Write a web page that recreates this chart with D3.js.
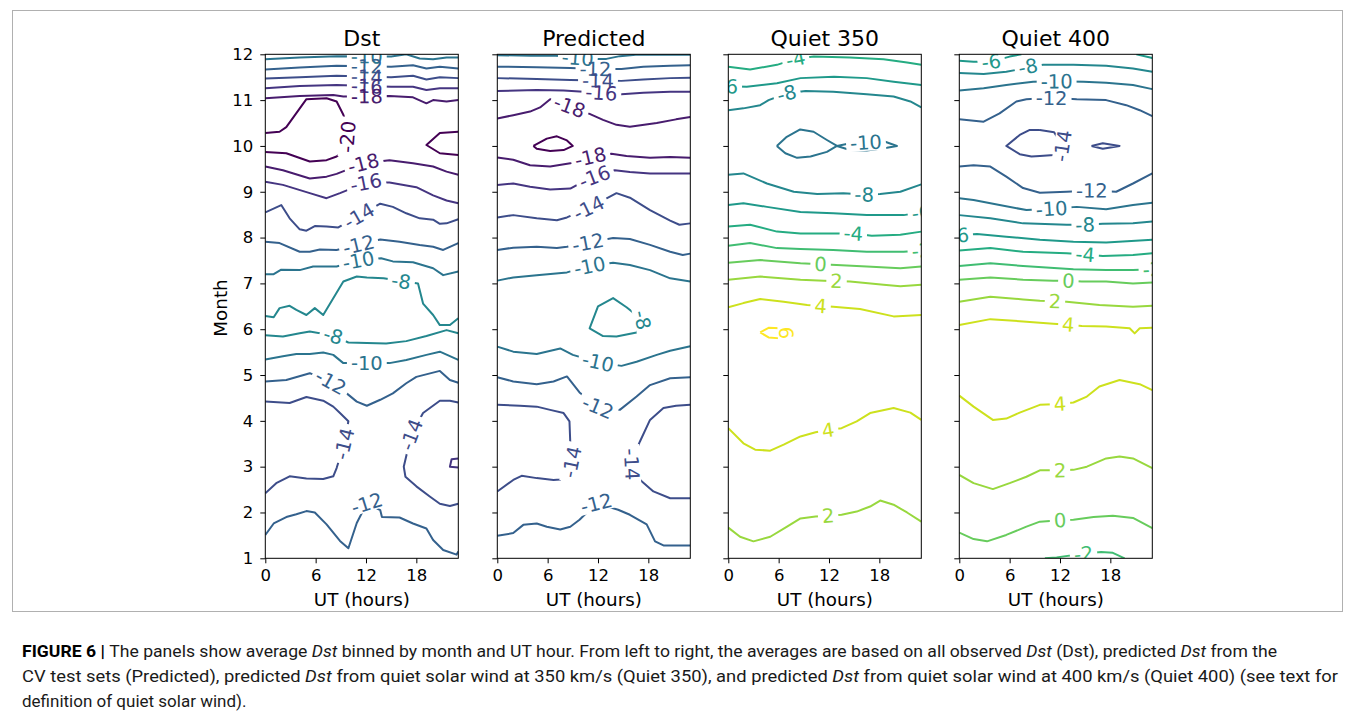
<!DOCTYPE html>
<html>
<head>
<meta charset="utf-8">
<script src="https://cdn.jsdelivr.net/npm/d3@7"></script>
<style>
  body { margin: 0; background: #fff; }
  svg text { font-family: "DejaVu Sans", sans-serif; }
</style>
</head>
<body>
<svg id="chart" width="1355" height="720"></svg>
<script>
(function (d3) {
    'use strict';

    // ---- data (contour lines in [UT hour, month]) ----
    var titles = ["Dst", "Predicted", "Quiet 350", "Quiet 400"];
    var utTicks = [0, 6, 12, 18];
    var monthTicks = [1, 2, 3, 4, 5, 6, 7, 8, 9, 10, 11, 12];
    var levelRange = [-20, 6];

    var dstLines = [
        [-10, [[0, 11.89], [4.1, 11.93], [8.5, 11.96], [15, 11.95], [16.8, 12.0], [18.4, 11.91], [20, 11.89], [21.6, 11.93], [23, 11.93]]],
        [-12, [[0, 11.67], [4.1, 11.71], [8.5, 11.75], [15, 11.73], [17.6, 11.76], [19.2, 11.69], [20.8, 11.73], [23, 11.69]]],
        [-14, [[0, 11.47], [4.1, 11.5], [8.5, 11.53], [15, 11.5], [17.6, 11.53], [19.2, 11.45], [20.8, 11.5], [23, 11.48]]],
        [-16, [[0, 11.26], [4.1, 11.31], [8.5, 11.33], [15, 11.29], [17.6, 11.29], [19.2, 11.22], [20.8, 11.26], [23, 11.26]]],
        [-18, [[0, 11.04], [4.1, 11.09], [8.1, 11.11], [9.3, 11.08], [14.8, 11.09], [17.6, 11.06], [19.2, 10.93], [20, 11.0], [21.6, 10.97], [23, 11.0]]],
        [-20, [[0, 10.28], [1.7, 10.31], [2.5, 10.41], [4.9, 11.02], [7.3, 11.04], [8.5, 10.97], [9.3, 10.68], [9.7, 10.46], [9.8, 10.2], [9.5, 9.91], [8.5, 9.77], [7.3, 9.69], [5.3, 9.66], [2.5, 9.84], [0, 9.87]]],
        [-20, [[23, 10.31], [20.8, 10.28], [19.2, 10.02], [20.8, 9.84], [23, 9.8]]],
        [-18, [[0, 9.55], [2.1, 9.47], [5.3, 9.29], [7.3, 9.33], [8.5, 9.39], [11.7, 9.62], [14.8, 9.69], [17.6, 9.62], [20, 9.55], [21.6, 9.44], [23, 9.37]]],
        [-16, [[0, 9.22], [2.1, 9.15], [5.3, 8.97], [7.3, 8.86], [8.9, 8.97], [12, 9.2], [14.8, 9.2], [18, 9.1], [20, 8.92], [21.6, 8.81], [23, 8.75]]],
        [-14, [[0, 8.55], [1.9, 8.71], [2.9, 8.42], [4.1, 8.18], [4.9, 8.15], [5.9, 8.25], [7.3, 8.24], [8.7, 8.22], [13.7, 8.74], [15.2, 8.67], [16.8, 8.53], [18.4, 8.42], [20, 8.39], [20.8, 8.3], [21.6, 8.31], [23, 8.4]]],
        [-12, [[0, 7.91], [1.7, 7.88], [4.1, 7.69], [5.3, 7.69], [6.5, 7.74], [8.5, 7.73], [13.7, 7.96], [16, 7.91], [18.4, 7.84], [20, 7.8], [21.2, 7.73], [23, 7.88]]],
        [-10, [[0, 7.2], [1, 7.2], [1.9, 7.3], [4.1, 7.29], [5.7, 7.37], [8.5, 7.37], [11.1, 7.5], [13.8, 7.55], [15.2, 7.48], [17.6, 7.46], [20, 7.33], [21.2, 7.18], [23, 7.26]]],
        [-8, [[0, 6.29], [1, 6.26], [1.7, 6.46], [2.9, 6.51], [3.7, 6.42], [4.9, 6.31], [5.9, 6.46], [6.9, 6.31], [9.3, 7.04], [10.9, 7.15], [12.1, 7.13], [14.1, 7.11], [16.2, 7.05], [18.2, 7.0], [18.8, 6.56], [20, 6.31], [20.8, 6.09], [22, 6.09], [23, 6.24]]],
        [-8, [[0, 5.87], [2.1, 5.84], [4.1, 5.91], [5.3, 5.95], [8.1, 5.86], [9.9, 5.71], [12.1, 5.7], [14.4, 5.69], [16.8, 5.74], [19.2, 5.85], [21.6, 5.98], [23, 5.91]]],
        [-10, [[0, 5.34], [2.1, 5.41], [3.7, 5.46], [5.3, 5.46], [6.9, 5.49], [8.1, 5.44], [9.3, 5.26], [14.8, 5.26], [16.8, 5.33], [19.2, 5.44], [20.8, 5.51], [23, 5.33]]],
        [-12, [[0, 4.86], [2.5, 4.89], [5.3, 5.04], [7.8, 4.85], [9.7, 4.6], [10.9, 4.42], [12.1, 4.33], [13.7, 4.46], [15.2, 4.6], [16.8, 4.82], [18, 4.96], [20.8, 5.09], [22, 4.89], [23, 4.83]]],
        [-14, [[0, 4.42], [2.9, 4.39], [4.9, 4.52], [6.9, 4.44], [8.1, 4.31], [8.9, 4.17], [9.9, 3.99], [9.4, 3.5], [8.5, 2.97], [8.1, 2.79], [6.9, 2.73], [4.9, 2.74], [2.9, 2.79], [1.3, 2.64], [0, 2.42]]],
        [-14, [[23, 4.4], [22, 4.44], [20.8, 4.44], [18.8, 4.17], [17.4, 3.7], [16.5, 3.0], [16.7, 2.78], [18, 2.57], [19.6, 2.35], [20.8, 2.19], [22, 2.14], [23, 2.19]]],
        [-16, [[23, 3.18], [22.2, 3.16], [22, 3.0], [23, 2.98]]],
        [-12, [[0, 1.51], [1, 1.76], [2.5, 1.9], [3.7, 1.96], [4.9, 2.03], [5.9, 2.0], [7.3, 1.74], [8.9, 1.38], [9.9, 1.22], [10.9, 1.77], [12.1, 2.2], [13.7, 2.05], [13.9, 1.9], [16, 1.89], [17.6, 1.76], [19.2, 1.65], [20, 1.4], [21.2, 1.18], [22.8, 1.08], [23, 1.15]]]
    ];
    var dstLabels = [
        [-10, 12.1, 11.93], [-12, 12.1, 11.74], [-14, 12.1, 11.52], [-16, 12.1, 11.31], [-18, 12.1, 11.09],
        [-20, 9.8, 10.2], [-18, 11.7, 9.62], [-16, 12, 9.2], [-14, 11.1, 8.5], [-12, 11.1, 7.86],
        [-10, 11.1, 7.5], [-8, 16.2, 7.05], [-8, 8.1, 5.86], [-10, 12.1, 5.26], [-12, 7.8, 4.85],
        [-14, 9.4, 3.5], [-14, 17.4, 3.7], [-12, 12.1, 2.2]
    ];

    var predLines = [
        [-10, [[0, 11.98], [4, 11.97], [7, 11.97], [9, 11.93], [10.5, 11.9], [13, 11.9], [14.6, 11.96], [16.5, 11.99], [20, 11.99], [23, 11.99]]],
        [-12, [[0, 11.73], [4.7, 11.72], [8.7, 11.7], [11.7, 11.68], [14.8, 11.68], [17.4, 11.73], [20.6, 11.75], [23, 11.76]]],
        [-14, [[0, 11.48], [4.7, 11.46], [8.7, 11.44], [12, 11.43], [14.8, 11.42], [17.4, 11.45], [20.6, 11.48], [23, 11.49]]],
        [-16, [[0, 11.2], [4.7, 11.22], [7.9, 11.21], [9.8, 11.19], [12.4, 11.16], [14.8, 11.13], [17.4, 11.16], [20.6, 11.18], [23, 11.18]]],
        [-18, [[0, 10.6], [1.9, 10.67], [3.9, 10.75], [5.1, 10.84], [6.3, 11.02], [11, 10.7], [12.6, 10.57], [14.2, 10.46], [15.8, 10.42], [19, 10.5], [21.3, 10.58], [23, 10.63]]],
        [-20, [[4.3, 10.0], [5.9, 10.16], [7.1, 10.21], [8.3, 10.12], [9.0, 10.0], [7.9, 9.91], [6.3, 9.89], [4.7, 9.94], [4.3, 10.0]]],
        [-18, [[0, 9.75], [1.9, 9.7], [3.9, 9.58], [6.3, 9.55], [8.7, 9.62], [11.1, 9.76], [13.6, 9.83], [15.4, 9.78], [18.2, 9.74], [20.6, 9.76], [23, 9.74]]],
        [-16, [[0, 9.15], [1.9, 9.18], [3.9, 9.11], [6.3, 9.05], [8.7, 9.07], [9.8, 9.18], [11.6, 9.33], [14, 9.47], [15.8, 9.43], [18.2, 9.4], [20.6, 9.4], [23, 9.4]]],
        [-14, [[0, 8.44], [1.9, 8.49], [4.7, 8.42], [7.1, 8.38], [8.3, 8.44], [10.9, 8.65], [14.2, 8.97], [15.8, 8.87], [18.2, 8.6], [20.6, 8.37], [21.7, 8.28], [23, 8.31]]],
        [-12, [[0, 7.73], [1.9, 7.78], [4.7, 7.8], [7.1, 7.77], [8.3, 7.8], [10.8, 7.89], [13.8, 7.99], [15.8, 7.97], [18.2, 7.84], [20.6, 7.69], [22.1, 7.62], [23, 7.65]]],
        [-10, [[0, 7.06], [1.9, 7.13], [4.7, 7.18], [8.3, 7.24], [11, 7.38], [13.8, 7.45], [15.8, 7.4], [18.2, 7.29], [20.6, 7.11], [23, 7.04]]],
        [-8, [[15.4, 6.48], [13.8, 6.68], [12.0, 6.5], [11.0, 6.02], [12.6, 5.85], [14.2, 5.84], [16.6, 5.93], [17.3, 6.2], [15.4, 6.48]]],
        [-10, [[0, 5.62], [1.9, 5.51], [4.7, 5.46], [7.5, 5.58], [9.0, 5.44], [12, 5.28], [14.8, 5.2], [16.6, 5.29], [19, 5.44], [20.6, 5.53], [23, 5.63]]],
        [-12, [[0, 4.95], [1.9, 4.86], [4.7, 4.8], [6.7, 4.86], [8.3, 4.97], [9.8, 4.62], [12, 4.3], [14.6, 4.24], [16.6, 4.53], [18.2, 4.78], [20.6, 4.93], [23, 4.95]]],
        [-14, [[0, 4.35], [2.7, 4.33], [4.7, 4.31], [6.3, 4.24], [7.9, 4.17], [8.6, 3.99], [8.7, 3.51], [8.9, 3.0], [7.5, 2.72], [6.7, 2.71], [4.7, 2.75], [2.9, 2.8], [1.9, 2.71], [0, 2.46]]],
        [-14, [[23, 4.35], [21.3, 4.33], [19.8, 4.28], [18.2, 4.02], [17, 3.55], [16.2, 3.2], [15.9, 2.95], [17.2, 2.68], [18.6, 2.46], [20.6, 2.31], [23, 2.31]]],
        [-12, [[0, 1.49], [1.9, 1.55], [3.1, 1.73], [4.7, 1.76], [5.9, 1.69], [7.5, 1.63], [8.7, 1.69], [9.8, 1.84], [11.8, 2.2], [14.4, 2.06], [15.8, 1.95], [17.8, 1.74], [18.8, 1.37], [19.8, 1.28], [23, 1.28]]]
    ];
    var predLabels = [
        [-10, 9.6, 11.93], [-12, 11.7, 11.68], [-14, 12, 11.43], [-16, 12.4, 11.16], [-18, 8.7, 10.9],
        [-18, 11.1, 9.76], [-16, 11.6, 9.33], [-14, 10.9, 8.65], [-12, 10.8, 7.89], [-10, 11, 7.38],
        [-8, 17.3, 6.2], [-10, 12, 5.28], [-12, 12, 4.3], [-14, 8.8, 3.1], [-14, 16.0, 3.05], [-12, 11.8, 2.2]
    ];

    var quiet350Lines = [
        [-4, [[0, 11.73], [2.6, 11.67], [5.8, 11.77], [8, 11.9], [10.2, 11.95], [14.5, 11.93], [18.5, 11.89], [21.3, 11.82], [23, 11.77]]],
        [-6, [[0, 11.3], [2.2, 11.29], [5.8, 11.37], [8.6, 11.48], [12.6, 11.51], [16.5, 11.48], [19.7, 11.4], [23, 11.33]]],
        [-8, [[0, 10.78], [1.8, 10.82], [3.8, 10.89], [4.8, 11.0], [7, 11.15], [9.2, 11.2], [12.5, 11.18], [16.5, 11.13], [19.7, 11.08], [21.7, 10.97], [23, 10.84]]],
        [-10, [[5.78, 10.0], [6.97, 10.2], [8.57, 10.36], [10.16, 10.31], [11.75, 10.13], [12.95, 10.0], [14.1, 10.04], [16.5, 10.08], [18.7, 10.09], [20.1, 10.0], [18.9, 9.96], [16.5, 9.9], [14.5, 9.91], [12.95, 10.0], [11.75, 9.87], [9.8, 9.77], [8.2, 9.74], [6.8, 9.84], [5.78, 10.0]]],
        [-8, [[0, 9.37], [1.8, 9.4], [4.6, 9.18], [7.8, 9.0], [10.6, 8.95], [13.7, 8.97], [16.2, 8.94], [18.1, 8.95], [20.5, 9.0], [23, 9.16]]],
        [-6, [[0, 8.71], [1.8, 8.75], [4.6, 8.67], [8.6, 8.56], [12.5, 8.53], [16.5, 8.49], [20.9, 8.49], [23, 8.55]]],
        [-4, [[0, 8.24], [2.6, 8.28], [5.8, 8.13], [8.6, 8.09], [12.7, 8.09], [14.9, 8.09], [17.1, 8.04], [20.5, 8.06], [23, 8.13]]],
        [-2, [[0, 7.82], [2.6, 7.88], [5.8, 7.77], [8.6, 7.75], [12.5, 7.73], [16.5, 7.69], [20.9, 7.69], [23, 7.72]]],
        [0, [[0, 7.45], [3.8, 7.51], [8.6, 7.44], [11, 7.42], [12.9, 7.4], [16.5, 7.37], [20.5, 7.33], [23, 7.37]]],
        [2, [[0, 7.08], [3.8, 7.15], [8.6, 7.08], [11.4, 7.06], [14.5, 7.04], [18.5, 6.97], [20.5, 6.94], [23, 6.97]]],
        [4, [[0, 6.48], [1.8, 6.57], [3.8, 6.66], [6.6, 6.6], [9.4, 6.53], [12.5, 6.49], [15.7, 6.44], [19.7, 6.28], [23, 6.31]]],
        [6, [[3.8, 5.93], [4.8, 6.03], [6.2, 6.02], [6.9, 5.92], [6.2, 5.8], [4.8, 5.82], [3.8, 5.93]]],
        [4, [[0, 3.84], [1.8, 3.51], [3.2, 3.37], [5, 3.35], [6.6, 3.48], [8.6, 3.66], [10.4, 3.75], [11.9, 3.8], [13.5, 3.84], [15.3, 3.99], [16.9, 4.17], [19.7, 4.28], [21.7, 4.18], [23, 4.02]]],
        [2, [[0, 1.67], [1.4, 1.47], [3, 1.37], [5, 1.47], [7, 1.69], [8.6, 1.87], [10.4, 1.91], [11.9, 1.93], [13.5, 1.95], [15.3, 2.02], [16.9, 2.13], [18.1, 2.26], [19.7, 2.17], [21.3, 2.0], [23, 1.8]]]
    ];
    var quiet350Labels = [
        [-4, 8, 11.92], [-6, 0, 11.3], [-8, 7, 11.13], [-10, 16.4, 10.08], [-8, 16.2, 8.94], [-6, 23, 8.55],
        [-4, 14.9, 8.09], [-2, 23, 7.72], [0, 11, 7.42], [2, 12.9, 7.05], [4, 11, 6.51], [6, 6.9, 5.92],
        [4, 11.9, 3.8], [2, 11.9, 1.93]
    ];

    var quiet400Lines = [
        [-6, [[0, 11.86], [1.7, 11.84], [3.8, 11.84], [6, 11.95], [7.4, 12.0]]],
        [-6, [[21.1, 12.0], [23, 11.92]]],
        [-8, [[0, 11.59], [2.9, 11.57], [5.6, 11.62], [6.8, 11.66], [8.1, 11.73], [10, 11.77], [13.6, 11.77], [17.5, 11.75], [20.7, 11.69], [23, 11.62]]],
        [-10, [[0, 11.21], [2.9, 11.26], [5.6, 11.33], [8.8, 11.4], [11.4, 11.41], [14.8, 11.4], [17.5, 11.38], [20.7, 11.33], [23, 11.24]]],
        [-12, [[0, 10.58], [2.9, 10.53], [4.8, 10.71], [6.8, 10.97], [8, 11.02], [11, 11.05], [14, 11.02], [17.5, 11.0], [19.9, 10.89], [21.5, 10.78], [23, 10.65]]],
        [-14, [[9.6, 10.35], [8.4, 10.35], [7.2, 10.24], [5.6, 10.0], [7.2, 9.82], [8.6, 9.77], [9.6, 9.78], [11.3, 9.8], [12.3, 10.0], [11.3, 10.3], [9.6, 10.35]]],
        [-14, [[15.75, 10.0], [17.1, 10.06], [19.1, 10.0], [17.1, 9.94], [15.75, 10.0]]],
        [-12, [[0, 9.55], [1.7, 9.58], [3.7, 9.55], [5.6, 9.33], [7.6, 9.08], [9.6, 8.98], [12.8, 9.0], [15.8, 9.03], [18.7, 9.0], [20.7, 9.18], [23, 9.4]]],
        [-10, [[0, 8.86], [1.7, 8.82], [4.8, 8.71], [8, 8.6], [11, 8.63], [14, 8.67], [17.5, 8.62], [20.7, 8.71], [23, 8.76]]],
        [-8, [[0, 8.49], [3.7, 8.42], [7.6, 8.31], [12.8, 8.28], [15, 8.28], [17.1, 8.3], [20.7, 8.31], [23, 8.35]]],
        [-6, [[0, 8.05], [2.1, 8.08], [5.6, 8.02], [9.6, 7.95], [13.6, 7.91], [17.5, 7.89], [23, 7.95]]],
        [-4, [[0, 7.72], [3.7, 7.77], [7.6, 7.69], [12.8, 7.66], [15, 7.63], [17.1, 7.6], [20.7, 7.62], [23, 7.66]]],
        [-2, [[0, 7.38], [3.7, 7.44], [7.6, 7.38], [13.6, 7.31], [17.5, 7.29], [20.7, 7.29], [23, 7.31]]],
        [0, [[0, 7.08], [3.7, 7.13], [7.6, 7.08], [11.2, 7.06], [13, 7.06], [14.6, 7.04], [17.5, 7.04], [20.7, 7.0], [23, 7.02]]],
        [2, [[0, 6.6], [3.7, 6.71], [7.6, 6.65], [9.6, 6.62], [11.4, 6.61], [12.8, 6.6], [16.7, 6.53], [20.7, 6.49], [23, 6.51]]],
        [4, [[0, 6.09], [3.7, 6.22], [7.6, 6.17], [11.2, 6.12], [13, 6.1], [14.6, 6.07], [17.5, 6.06], [20.3, 6.02], [20.9, 5.91], [21.5, 6.02], [23, 6.03]]],
        [4, [[0, 4.55], [1.7, 4.31], [4, 4.02], [5.6, 4.05], [7.2, 4.18], [9.6, 4.35], [12, 4.37], [13.6, 4.4], [15.2, 4.53], [16.7, 4.75], [19.1, 4.89], [21.5, 4.8], [23, 4.67]]],
        [2, [[0, 2.82], [1.7, 2.64], [4, 2.51], [6, 2.64], [8, 2.78], [9.6, 2.92], [12, 2.92], [13.6, 2.93], [15.2, 3.0], [17.5, 3.18], [19.1, 3.22], [20.7, 3.18], [23, 2.97]]],
        [0, [[0, 1.56], [1.7, 1.42], [3.3, 1.37], [5.6, 1.51], [8, 1.69], [9.6, 1.8], [12, 1.83], [13.6, 1.84], [16, 1.9], [18.3, 1.93], [20.7, 1.88], [23, 1.66]]],
        [-2, [[10.2, 1.0], [11.6, 1.02], [14.8, 1.1], [16.9, 1.14], [18.3, 1.12], [19.7, 1.0]]]
    ];
    var quiet400Labels = [
        [-6, 3.8, 11.85], [-8, 8.2, 11.72], [-10, 11.6, 11.41], [-12, 11, 11.05], [-14, 12.3, 10.0],
        [-12, 15.8, 9.03], [-10, 11, 8.64], [-8, 15, 8.28], [-6, 0, 8.05], [-4, 15, 7.63], [-2, 23, 7.31],
        [0, 13, 7.06], [2, 11.4, 6.61], [4, 13, 6.1], [4, 12, 4.37], [2, 12, 2.92], [0, 12, 1.83], [-2, 14.8, 1.1]
    ];

    var captionLines = [
        [["b", "FIGURE 6 | "], ["", "The panels show average "], ["i", "Dst"], ["", " binned by month and UT hour. From left to right, the averages are based on all observed "], ["i", "Dst"], ["", " (Dst), predicted "], ["i", "Dst"], ["", " from the"]],
        [["", "CV test sets (Predicted), predicted "], ["i", "Dst"], ["", " from quiet solar wind at 350 km/s (Quiet 350), and predicted "], ["i", "Dst"], ["", " from quiet solar wind at 400 km/s (Quiet 400) (see text for"]],
        [["", "definition of quiet solar wind)."]]
    ];

    var panels = [
        { title: titles[0], lines: dstLines, labels: dstLabels },
        { title: titles[1], lines: predLines, labels: predLabels },
        { title: titles[2], lines: quiet350Lines, labels: quiet350Labels },
        { title: titles[3], lines: quiet400Lines, labels: quiet400Labels }
    ];

    // ---- layout ----
    var svgWidth = 1355;
    var svgHeight = 720;
    var panelLeft = [265.3, 497.3, 728.3, 959.3];
    var plotW = 193;
    var plotTop = 54.3;
    var plotBottom = 558.3;
    var tickSize = 16.5;
    var labelSize = 19.5;

    var svg = d3.select("#chart");
    svg.append("rect").attr("width", svgWidth).attr("height", svgHeight).attr("fill", "#fff");
    var defs = svg.append("defs");

    // figure frame
    svg.append("rect")
        .attr("x", 12.5).attr("y", 10.5)
        .attr("width", 1330).attr("height", 601)
        .attr("fill", "none").attr("stroke", "#b0b0b0").attr("stroke-width", 1);

    var color = function (lev) {
        return d3.interpolateViridis((lev - levelRange[0]) / (levelRange[1] - levelRange[0]));
    };

    var y = d3.scaleLinear().domain([1, 12]).range([plotBottom, plotTop]);

    // point at arc length s along a pixel polyline
    function pointAt(pts, s) {
        var acc = 0;
        if (s <= 0) return pts[0];
        for (var i = 0; i < pts.length - 1; i++) {
            var len = Math.hypot(pts[i + 1][0] - pts[i][0], pts[i + 1][1] - pts[i][1]);
            if (acc + len >= s) {
                var t = len ? (s - acc) / len : 0;
                return [pts[i][0] + t * (pts[i + 1][0] - pts[i][0]), pts[i][1] + t * (pts[i + 1][1] - pts[i][1])];
            }
            acc += len;
        }
        return pts[pts.length - 1];
    }

    panels.forEach(function (p, pi) {
        var x = d3.scaleLinear().domain([0, 23]).range([panelLeft[pi], panelLeft[pi] + plotW]);
        var g = svg.append("g");

        defs.append("clipPath").attr("id", "clip" + pi)
            .append("rect")
            .attr("x", x(0)).attr("y", y(12))
            .attr("width", plotW).attr("height", plotBottom - plotTop);

        var lineG = g.append("g").attr("clip-path", "url(#clip" + pi + ")");
        var labelG = g.append("g").attr("clip-path", "url(#clip" + pi + ")");

        var pix = p.lines.map(function (l) {
            return l[1].map(function (d) { return [x(d[0]), y(d[1])]; });
        });
        var gaps = p.lines.map(function () { return []; });

        // inline contour labels, snapped to their line
        p.labels.forEach(function (lb) {
            var hx = x(lb[1]), hy = y(lb[2]);
            var best = null;
            p.lines.forEach(function (l, li) {
                if (l[0] !== lb[0]) return;
                var pts = pix[li], s = 0;
                for (var i = 0; i < pts.length - 1; i++) {
                    var ax = pts[i][0], ay = pts[i][1];
                    var dx = pts[i + 1][0] - ax, dy = pts[i + 1][1] - ay;
                    var len = Math.hypot(dx, dy);
                    var t = len ? Math.max(0, Math.min(1, ((hx - ax) * dx + (hy - ay) * dy) / (len * len))) : 0;
                    var px = ax + t * dx, py = ay + t * dy;
                    var dist = Math.hypot(hx - px, hy - py);
                    if (!best || dist < best.dist) best = { dist: dist, li: li, s: s + t * len, x: px, y: py };
                    s += len;
                }
            });
            if (!best) return;

            var txt = labelG.append("text")
                .attr("x", best.x).attr("y", best.y)
                .attr("dy", "0.36em")
                .attr("text-anchor", "middle")
                .attr("font-size", labelSize)
                .attr("fill", color(lb[0]))
                .text(String(lb[0]));
            var w = txt.node().getComputedTextLength();
            var a = pointAt(pix[best.li], best.s - w / 2);
            var b = pointAt(pix[best.li], best.s + w / 2);
            var ang = Math.atan2(b[1] - a[1], b[0] - a[0]) * 180 / Math.PI;
            if (ang > 90) ang -= 180;
            if (ang <= -90) ang += 180;
            txt.attr("transform", "rotate(" + ang + "," + best.x + "," + best.y + ")");
            gaps[best.li].push({ x: best.x, y: best.y, w: w, ang: ang });
        });

        // contour lines, with gaps under their own labels
        p.lines.forEach(function (l, li) {
            var id = "m" + pi + "_" + li;
            var mask = defs.append("mask").attr("id", id)
                .attr("maskUnits", "userSpaceOnUse")
                .attr("x", 0).attr("y", 0).attr("width", svgWidth).attr("height", svgHeight);
            mask.append("rect").attr("width", svgWidth).attr("height", svgHeight).attr("fill", "#fff");
            gaps[li].forEach(function (gp) {
                mask.append("rect")
                    .attr("x", -(gp.w + 8) / 2).attr("y", -8.5)
                    .attr("width", gp.w + 8).attr("height", 17)
                    .attr("fill", "#000")
                    .attr("transform", "translate(" + gp.x + "," + gp.y + ") rotate(" + gp.ang + ")");
            });
            lineG.append("path")
                .attr("d", d3.line()(pix[li]))
                .attr("fill", "none")
                .attr("stroke", color(l[0]))
                .attr("stroke-width", 2)
                .attr("stroke-linejoin", "round")
                .attr("mask", "url(#" + id + ")");
        });

        // axes
        g.append("g")
            .attr("transform", "translate(0," + plotBottom + ")")
            .call(d3.axisBottom(x).tickValues(utTicks).tickSize(5).tickPadding(6))
            .attr("font-size", tickSize).attr("font-family", "DejaVu Sans")
            .call(function (ax) { ax.select(".domain").remove(); });

        g.append("g")
            .attr("transform", "translate(" + x(0) + ",0)")
            .call(d3.axisLeft(y).tickValues(monthTicks).tickSize(5).tickPadding(7)
                .tickFormat(pi === 0 ? d3.format("d") : function () { return ""; }))
            .attr("font-size", tickSize).attr("font-family", "DejaVu Sans")
            .call(function (ax) { ax.select(".domain").remove(); });

        g.append("rect")
            .attr("x", x(0)).attr("y", plotTop)
            .attr("width", plotW).attr("height", plotBottom - plotTop)
            .attr("fill", "none").attr("stroke", "#000").attr("stroke-width", 1);

        g.append("text")
            .attr("x", x(11.5)).attr("y", 46)
            .attr("text-anchor", "middle")
            .attr("font-size", 22)
            .attr("fill", "#000")
            .text(p.title);

        g.append("text")
            .attr("x", x(11.5)).attr("y", 606)
            .attr("text-anchor", "middle")
            .attr("font-size", 18.3)
            .attr("fill", "#000")
            .text("UT (hours)");
    });

    svg.append("text")
        .attr("transform", "translate(227,308) rotate(-90)")
        .attr("text-anchor", "middle")
        .attr("font-size", 18.3)
        .attr("fill", "#000")
        .text("Month");

    // caption
    var capWidths = [1255, 1316, null];
    captionLines.forEach(function (line, i) {
        var t = svg.append("text")
            .attr("x", 22).attr("y", 657 + i * 25)
            .attr("font-size", 17)
            .attr("fill", "#1a1a1a")
            .style("font-family", "Roboto, sans-serif");
        if (capWidths[i]) t.attr("textLength", capWidths[i]).attr("lengthAdjust", "spacingAndGlyphs");
        line.forEach(function (part) {
            var ts = t.append("tspan").text(part[1]);
            if (part[0] === "b") ts.attr("font-weight", "bold").attr("fill", "#000");
            if (part[0] === "i") ts.attr("font-style", "italic");
        });
    });
})(window.d3);
</script>
</body>
</html>
